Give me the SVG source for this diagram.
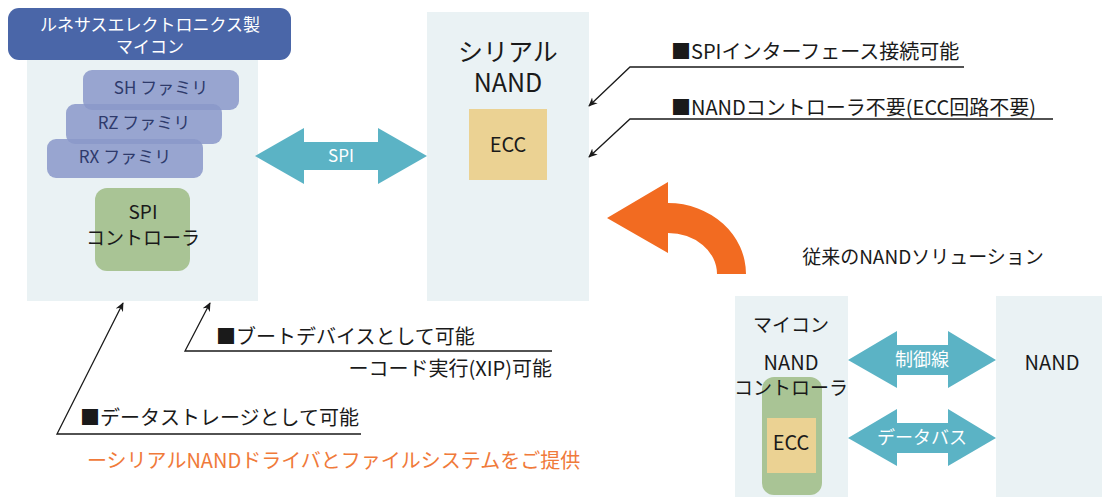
<svg xmlns="http://www.w3.org/2000/svg" width="1102" height="497" viewBox="0 0 1102 497">
<defs>
<style>
text{font-family:"Noto Sans CJK JP","Noto Sans",sans-serif;text-anchor:middle;fill:#1a1a1a}
.panel{fill:#EAF2F4}
.fam{fill:#8A98C9;fill-opacity:0.85}
.famt{fill:#2E3A6B;font-size:17px}
.green{fill:#A9C495}
.ecc{fill:#EBD293}
.blue{fill:#5BB3C5}
.wt{fill:#ffffff}
.ann{font-size:20px;text-anchor:start}
.ln{stroke:#1a1a1a;stroke-width:1.3;fill:none}
</style>
<marker id="ah" viewBox="0 0 10 10" refX="9" refY="5" markerWidth="9" markerHeight="9" markerUnits="userSpaceOnUse" orient="auto">
<path d="M0,0.5 L10,5 L0,9.5 L3,5 Z" fill="#1a1a1a"/>
</marker>
</defs>
<rect width="1102" height="497" fill="#ffffff"/>

<g id="mcu">
<rect class="panel" x="27" y="40" width="231" height="261"/>
<rect x="8" y="8" width="283" height="52" rx="11" fill="#4A66A8"/>
<text x="150" y="31" class="wt" style="font-size:17px">ルネサスエレクトロニクス製</text>
<text x="150" y="53" class="wt" style="font-size:17px">マイコン</text>
</g>
<g id="sh">
<rect class="fam" x="83" y="70" width="156" height="40" rx="9"/>
<text class="famt" x="161" y="94">SH ファミリ</text>
</g>
<g id="rz">
<rect class="fam" x="66" y="104" width="156" height="40" rx="9"/>
<text class="famt" x="144" y="129">RZ ファミリ</text>
</g>
<g id="rx">
<rect class="fam" x="47" y="139" width="156" height="39" rx="9"/>
<text class="famt" x="125" y="163">RX ファミリ</text>
</g>
<g id="spictl">
<rect class="green" x="95" y="188" width="95" height="83" rx="12"/>
<text x="143" y="219" style="font-size:19px">SPI</text>
<text x="143" y="245" style="font-size:19px">コントローラ</text>
</g>

<g id="snand">
<rect class="panel" x="427" y="12" width="162" height="289"/>
<text x="508" y="61" style="font-size:25px">シリアル</text>
<text x="508" y="92" style="font-size:25px">NAND</text>
<rect class="ecc" x="469" y="109" width="78" height="71"/>
<text x="508" y="152" style="font-size:20px">ECC</text>
</g>

<g id="old-mcu">
<rect class="panel" x="735" y="296" width="113" height="201"/>
<rect class="green" x="762" y="377" width="60" height="118" rx="12"/>
<rect class="ecc" x="767" y="418" width="49" height="55"/>
<text x="791" y="332" style="font-size:19px">マイコン</text>
<text x="791" y="370" style="font-size:20px">NAND</text>
<text x="791" y="395" style="font-size:19px">コントローラ</text>
<text x="791" y="450" style="font-size:20px">ECC</text>
</g>
<g id="old-nand">
<rect class="panel" x="996" y="296" width="106" height="201"/>
<text x="1052" y="370" style="font-size:20px">NAND</text>
</g>

<g id="connectors">
<path class="blue" d="M255,156 L304,128 L304,142 L378,142 L378,128 L427,156 L378,184 L378,170 L304,170 L304,184 Z"/>
<text x="341" y="162" class="wt" style="font-size:17px">SPI</text>
<path class="blue" d="M848,360 L897,331 L897,345 L948,345 L948,331 L996,360 L948,388 L948,375 L897,375 L897,388 Z"/>
<text x="922" y="366" class="wt" style="font-size:18px">制御線</text>
<path class="blue" d="M848,438 L897,409 L897,423 L948,423 L948,409 L996,438 L948,466 L948,453 L897,453 L897,466 Z"/>
<text x="922" y="444" class="wt" style="font-size:18px">データバス</text>
<path fill="#F26B21" d="M668,203 A78,71 0 0 1 746,274 L717,274 A49,41 0 0 0 668,233 L668,253 L607,218 L668,182 Z"/>
<polyline class="ln" points="964,67 630,67 589,106" marker-end="url(#ah)"/>
<polyline class="ln" points="1053,119 630,119 589,157" marker-end="url(#ah)"/>
<polyline class="ln" points="552,351 185,351 210,303" marker-end="url(#ah)"/>
<polyline class="ln" points="361,434 57,434 123,303" marker-end="url(#ah)"/>
</g>

<g id="labels">
<text class="ann" x="671" y="59">■SPIインターフェース接続可能</text>
<text class="ann" x="671" y="115">■NANDコントローラ不要(ECC回路不要)</text>
<text x="923" y="264" style="font-size:19px">従来のNANDソリューション</text>
<text class="ann" x="216" y="344">■ブートデバイスとして可能</text>
<text class="ann" x="552" y="376" style="text-anchor:end">ーコード実行(XIP)可能</text>
<text class="ann" x="80" y="425">■データストレージとして可能</text>
<text class="ann" x="87" y="468" style="fill:#F07A3A">ーシリアルNANDドライバとファイルシステムをご提供</text>
</g>
</svg>
